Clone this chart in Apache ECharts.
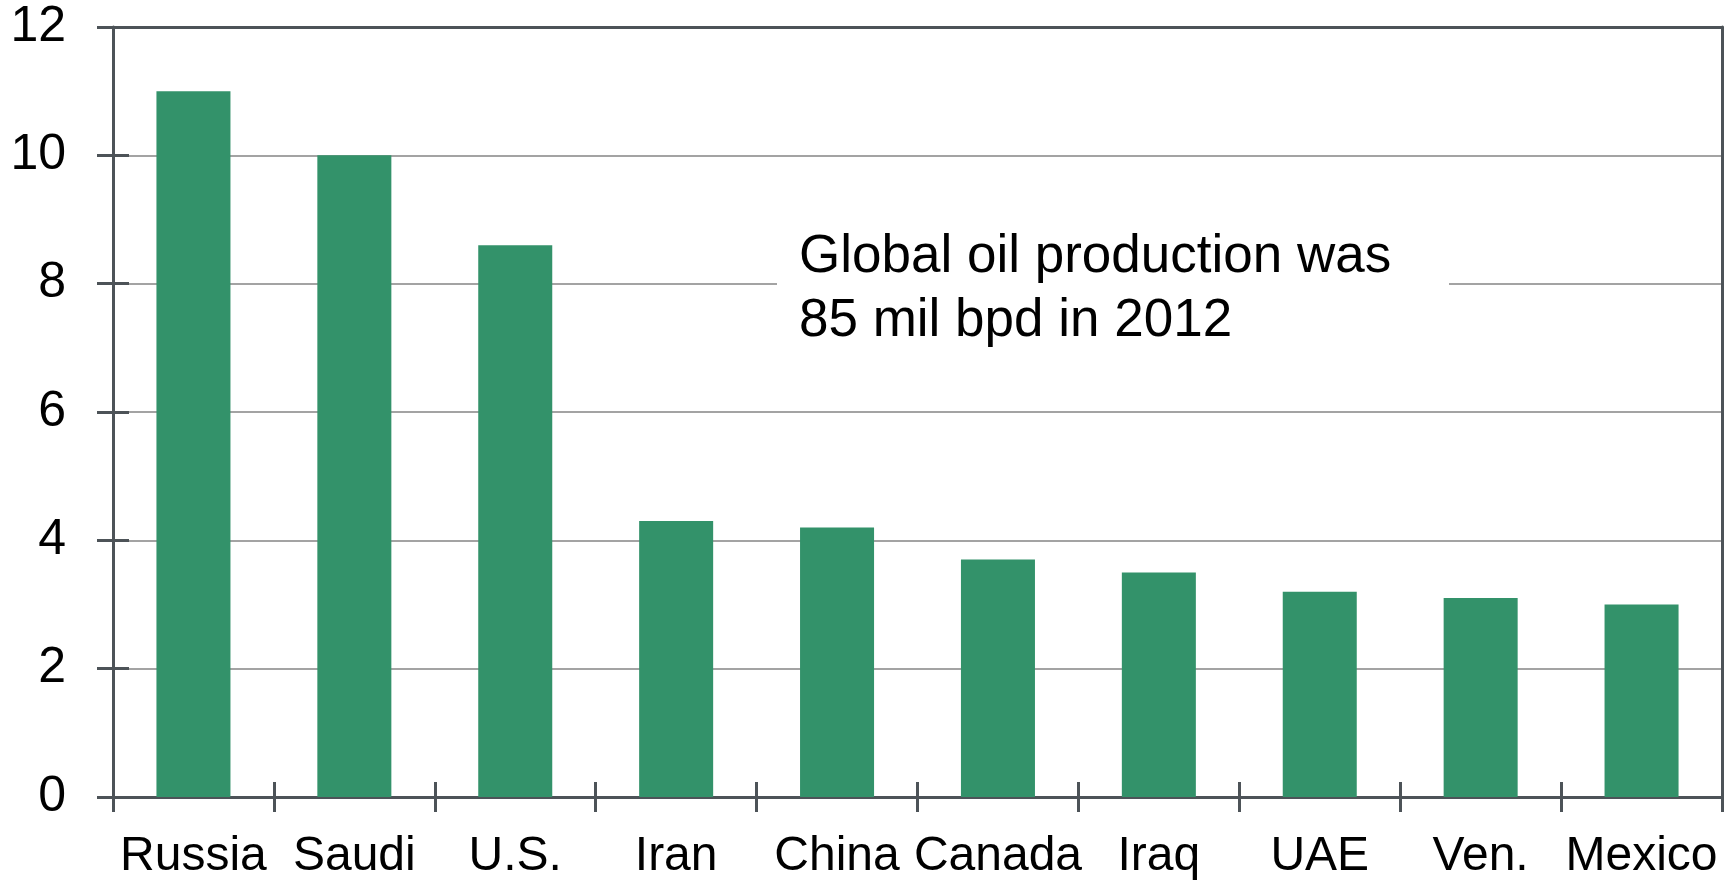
<!DOCTYPE html>
<html>

<head>
    <meta charset="utf-8">
    <title>Oil production by country</title>
    <script src="https://cdn.jsdelivr.net/npm/echarts@6.0.0/dist/echarts.min.js"></script>
    <style>
        html,
        body {
            margin: 0;
            padding: 0;
            background-color: #ffffff;
        }

        #chart {
            width: 1733px;
            height: 881px;
        }
    </style>
</head>

<body>
    <div id="chart"></div>

    <script>
        // 数据
        var countries = ['Russia', 'Saudi', 'U.S.', 'Iran', 'China', 'Canada', 'Iraq', 'UAE', 'Ven.', 'Mexico'];
        var production = [11.0, 10.0, 8.6, 4.3, 4.2, 3.7, 3.5, 3.2, 3.1, 3.0];
        var yMin = 0;
        var yMax = 12;
        var yStep = 2;
        var note = ['Global oil production was', '85 mil bpd in 2012'];

        var FONT = '"Liberation Sans", Arial, sans-serif';
        var AXIS_COLOR = '#4d5358';
        var GRID_COLOR = '#a3a3a3';
        var BAR_COLOR = '#33926a';

        var myChart = echarts.init(document.getElementById('chart'));

        var option = {
            backgroundColor: '#ffffff',
            animation: false,
            grid: {
                left: 113,
                right: 11,
                top: 27,
                bottom: 83
            },
            xAxis: [{
                // 底部主轴，带标签，刻度朝外
                type: 'category',
                position: 'bottom',
                data: countries,
                axisLine: { show: true, lineStyle: { color: AXIS_COLOR, width: 3 } },
                axisTick: { show: true, inside: false, length: 15, lineStyle: { color: AXIS_COLOR, width: 3 } },
                axisLabel: {
                    interval: 0,
                    color: '#000',
                    fontFamily: FONT,
                    fontSize: 48,
                    margin: 36
                },
                splitLine: { show: false }
            }, {
                // 刻度朝内，和主轴叠加成穿过轴线的刻度
                type: 'category',
                position: 'bottom',
                data: countries,
                axisLine: { show: false },
                axisTick: { show: true, inside: true, length: 15, lineStyle: { color: AXIS_COLOR, width: 3 } },
                axisLabel: { show: false },
                splitLine: { show: false }
            }, {
                // 顶部边框
                type: 'category',
                position: 'top',
                data: countries,
                axisLine: { show: true, onZero: false, lineStyle: { color: AXIS_COLOR, width: 3 } },
                axisTick: { show: false },
                axisLabel: { show: false },
                splitLine: { show: false }
            }],
            yAxis: [{
                type: 'value',
                position: 'left',
                min: yMin,
                max: yMax,
                interval: yStep,
                axisLine: { show: true, lineStyle: { color: AXIS_COLOR, width: 3 } },
                axisTick: { show: true, inside: false, length: 16, lineStyle: { color: AXIS_COLOR, width: 3 } },
                axisLabel: {
                    color: '#000',
                    fontFamily: FONT,
                    fontSize: 50,
                    margin: 47
                },
                splitLine: {
                    show: true,
                    showMinLine: false,
                    showMaxLine: false,
                    lineStyle: { color: GRID_COLOR, width: 2 }
                }
            }, {
                type: 'value',
                position: 'left',
                min: yMin,
                max: yMax,
                interval: yStep,
                axisLine: { show: false },
                axisTick: { show: true, inside: true, length: 16, lineStyle: { color: AXIS_COLOR, width: 3 } },
                axisLabel: { show: false },
                splitLine: { show: false }
            }, {
                // 右侧边框
                type: 'value',
                position: 'right',
                min: yMin,
                max: yMax,
                interval: yStep,
                axisLine: { show: true, onZero: false, lineStyle: { color: AXIS_COLOR, width: 3 } },
                axisTick: { show: false },
                axisLabel: { show: false },
                splitLine: { show: false }
            }],
            graphic: [{
                type: 'rect',
                z: 50,
                shape: { x: 777, y: 200, width: 672, height: 150 },
                style: { fill: '#ffffff' }
            }, {
                type: 'text',
                z: 51,
                x: 799,
                y: 225,
                style: {
                    text: note.join('\n'),
                    fill: '#000',
                    font: '53px ' + FONT,
                    lineHeight: 64,
                    verticalAlign: 'top'
                }
            }],
            series: [{
                type: 'bar',
                xAxisIndex: 0,
                yAxisIndex: 0,
                data: production,
                barWidth: '46%',
                itemStyle: { color: BAR_COLOR },
                silent: true
            }]
        };

        myChart.setOption(option);
    </script>
</body>

</html>
